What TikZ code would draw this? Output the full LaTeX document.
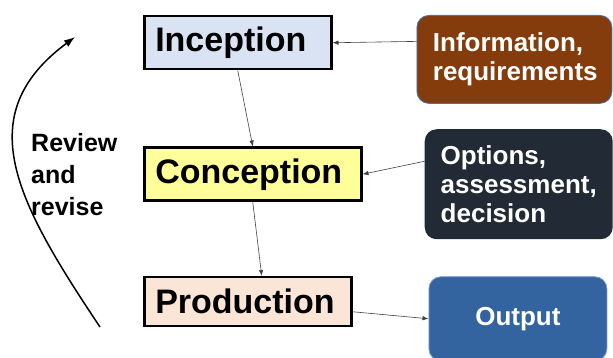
\documentclass[tikz,border=0pt]{standalone}
\usepackage{fontspec}
\setmainfont{Liberation Sans}
\usepackage{xcolor}
\usetikzlibrary{arrows.meta, positioning}

\definecolor{incfill}{HTML}{DAE3F3}
\definecolor{confill}{HTML}{FFFF99}
\definecolor{profill}{HTML}{FBE5D6}
\definecolor{infofill}{HTML}{843C0C}
\definecolor{optfill}{HTML}{222A35}
\definecolor{outfill}{HTML}{3464A0}
\definecolor{edgeblue}{HTML}{4472C4}

\begin{document}
\begin{tikzpicture}[
    x=1pt, y=1pt,
    stagebox/.style={draw, line width=2.5pt, inner xsep=11pt, inner ysep=0pt, align=left,
                     font=\fontsize{34}{40}\selectfont\bfseries},
    inbox/.style={rounded corners=12pt, text=white, inner xsep=16pt, inner ysep=0pt,
                  align=left, font=\fontsize{26}{29}\selectfont\bfseries},
    arrow/.style={-{Latex[length=6pt, width=4.5pt]}, line width=0.6pt, black!75},
]
\useasboundingbox (0,0) rectangle (613,358);

% Stages (left column)
\node[stagebox, fill=incfill, text width=165pt, minimum height=53pt, anchor=north west]
    (inception) at (143,343) {Inception};
\node[stagebox, fill=confill, text width=195pt, minimum height=53pt,
      below=76pt of inception.south west, anchor=north west] (conception) {Conception};
\node[stagebox, fill=profill, text width=185pt, minimum height=49pt,
      below=74pt of conception.south west, anchor=north west] (production) {Production};

% Inputs and output (right column)
\node[inbox, fill=infofill, draw=edgeblue, line width=0.8pt, text width=163pt, minimum height=88pt,
      right=84pt of inception.north east, anchor=north west] (info) {Information,\\requirements};
\node[inbox, fill=optfill, text width=156pt, minimum height=110pt,
      right=62pt of conception.east, anchor=west, yshift=-10pt] (options) {Options,\\assessment,\\decision};
\node[inbox, fill=outfill, draw=edgeblue!70, line width=0.8pt, align=center, text width=146pt,
      minimum height=84pt, right=76pt of production.east, anchor=west, yshift=-17pt] (output) {Output};

\draw[arrow] ([yshift=18pt]info.west) -- (inception.east);
\draw[arrow] ([yshift=23pt]options.west) -- (conception.east);
\draw[arrow] (inception.south) -- (conception.north);
\draw[arrow] (conception.south) -- ([xshift=14pt]production.north);
\draw[arrow] ([yshift=-10pt]production.east) -- (output.west);

% Review loop
\node[inner sep=0pt, anchor=north west, align=left,
      font=\fontsize{25}{32}\selectfont\bfseries] (review) at (31,225) {Review\\and\\revise};
\coordinate (revstart) at (100,31);
\coordinate (revend) at (75,321);
\draw[-{Latex[length=11pt, width=8pt]}, line width=1.5pt]
    (revstart) .. controls (15,158) and (-30,243) .. (revend);

\end{tikzpicture}
\end{document}
